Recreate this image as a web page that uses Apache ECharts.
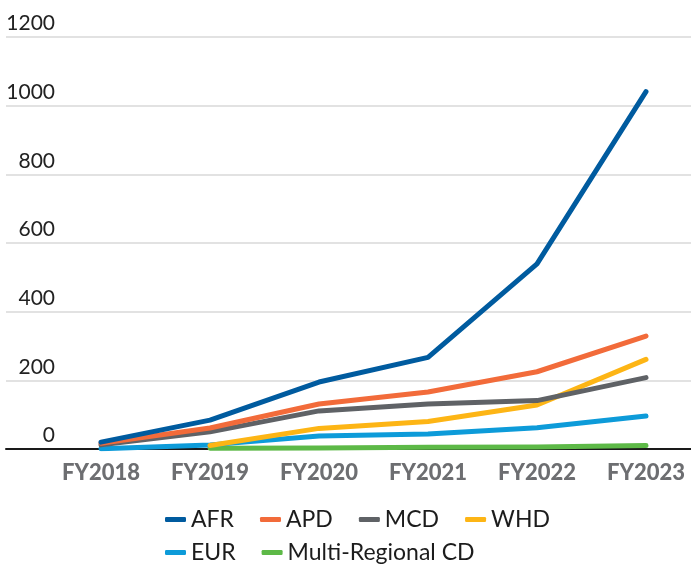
<!DOCTYPE html>
<html>
<head>
<meta charset="utf-8">
<script src="https://cdn.jsdelivr.net/npm/echarts@6/dist/echarts.min.js"></script>
<style>
  html, body { margin: 0; padding: 0; background: #fff; }
  #chart { width: 691px; height: 564px; }
</style>
</head>
<body>
<div id="chart"></div>
<script>
// Fiscal years on the x axis
const years = ['FY2018', 'FY2019', 'FY2020', 'FY2021', 'FY2022', 'FY2023'];

// Values per regional department
const afr = [20, 84, 195, 267, 539, 1041];
const apd = [17, 61, 131, 166, 225, 329];
const mcd = [12, 50, 111, 131, 141, 208];
const whd = [null, 10, 60, 80, 128, 261];
const eur = [1, 12, 38, 44, 62, 96];
const multi = [null, 2, 3, 5, 6, 10];

const yTicks = [0, 200, 400, 600, 800, 1000, 1200];

const seriesDefs = [
  { name: 'AFR', data: afr, color: '#005b9f' },
  { name: 'APD', data: apd, color: '#f26b3a' },
  { name: 'MCD', data: mcd, color: '#5f6266' },
  { name: 'WHD', data: whd, color: '#fdb515' },
  { name: 'EUR', data: eur, color: '#0d9bd9' },
  { name: 'Multi-Regional CD', data: multi, color: '#5db947' }
];

const chart = echarts.init(document.getElementById('chart'));

const legendText = { fontFamily: 'Lato', fontSize: 23, color: '#1c1c1c' };

chart.setOption({
  animation: false,
  color: seriesDefs.map(s => s.color),
  grid: [
    // full-width grid carrying the horizontal rules and y labels
    { left: 6, right: 0, top: 37, bottom: 115 },
    // plotting grid for the yearly points
    { left: 101, right: 45, top: 37, bottom: 115 }
  ],
  xAxis: [
    {
      gridIndex: 0, type: 'value', min: 0, max: 1,
      axisLine: { show: true, onZero: false, lineStyle: { color: '#1a1a1a', width: 2 } },
      axisTick: { show: false }, axisLabel: { show: false }, splitLine: { show: false }
    },
    {
      gridIndex: 1, type: 'category', data: years, boundaryGap: false,
      axisLine: { show: false }, axisTick: { show: false }, splitLine: { show: false },
      axisLabel: {
        margin: 13, fontFamily: 'Lato', fontWeight: 900, fontSize: 22,
        color: '#6d6e71'
      }
    }
  ],
  yAxis: [
    {
      gridIndex: 0, type: 'value', min: 0, max: 1200, interval: 200,
      axisLine: { show: false }, axisTick: { show: false },
      splitLine: { lineStyle: { color: '#d9d9d9', width: 1.5 } },
      axisLabel: {
        inside: true, align: 'right', verticalAlign: 'bottom', margin: 49,
        padding: [0, 0, 3, 0],
        fontFamily: 'Lato', fontSize: 21, color: '#222',
        formatter: v => (yTicks.includes(v) ? String(v) : '')
      }
    },
    {
      gridIndex: 1, type: 'value', min: 0, max: 1200, interval: 200,
      show: false, splitLine: { show: false }
    }
  ],
  legend: [
    {
      data: ['AFR', 'APD', 'MCD', 'WHD'],
      left: 160, top: 503, icon: 'roundRect', itemWidth: 21, itemHeight: 5,
      itemGap: 26, textStyle: legendText
    },
    {
      data: ['EUR', 'Multi-Regional CD'],
      left: 160, top: 536, icon: 'roundRect', itemWidth: 21, itemHeight: 5,
      itemGap: 26, textStyle: legendText
    }
  ],
  series: seriesDefs.map(s => ({
    name: s.name,
    type: 'line',
    xAxisIndex: 1,
    yAxisIndex: 1,
    data: s.data,
    showSymbol: false,
    symbol: 'none',
    lineStyle: { width: 5, color: s.color, cap: 'round', join: 'round' },
    itemStyle: { color: s.color }
  })).reverse()
});
</script>
</body>
</html>
